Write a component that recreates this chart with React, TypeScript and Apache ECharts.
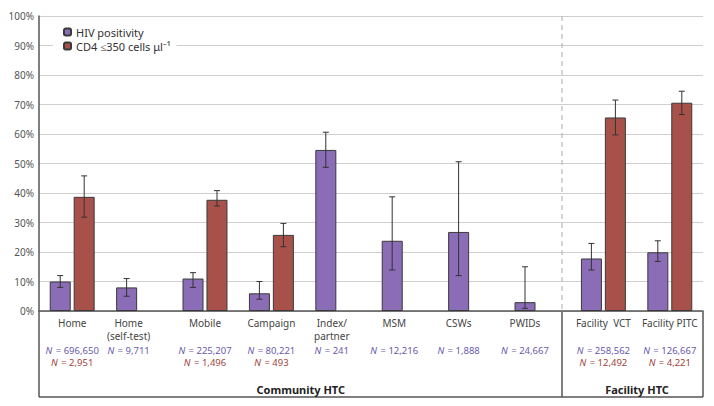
import React, { useEffect, useRef } from "react";
import * as echarts from "echarts";

const categories = ["Home", "Home\n(self-test)", "Mobile", "Campaign", "Index/\npartner", "MSM", "CSWs", "PWIDs", "Facility  VCT", "Facility PITC"];
const hivValues = [10, 8, 11, 6, 54.6, 23.8, 26.8, 3, 17.8, 19.9];
const hivLow = [8, 5, 8, 4, 48.7, 13.9, 12, 0.9, 13.9, 16.8];
const hivHigh = [12, 11, 13, 10, 60.6, 38.7, 50.6, 15, 22.9, 23.8];
const cd4Values: (number | null)[] = [38.7, null, 37.7, 25.8, null, null, null, null, 65.6, 70.6];
const cd4Low: (number | null)[] = [31.8, null, 35.6, 21.8, null, null, null, null, 59.7, 66.6];
const cd4High: (number | null)[] = [45.8, null, 40.8, 29.7, null, null, null, null, 71.5, 74.5];
const hivN = ["696,650", "9,711", "225,207", "80,221", "241", "12,216", "1,888", "24,667", "258,562", "126,667"];
const cd4N = ["2,951", "", "1,496", "493", "", "", "", "", "12,492", "4,221"];
const seriesNames = ["HIV positivity", "CD4 \u2264350 cells \u03bcl\u207b\u00b9"];
const groupLabels = ["Community HTC", "Facility HTC"];

// layout: leftward shift (px) of each category's label block
const LABEL_SHIFT = [0, 10, 0, 0, 6, 10, 12, 12, 0, 0];

const PURPLE = "#8a6cb7";
const RED = "#a8514a";
const BAR_W = 21;
const GAP = 3;
const FONT = "Noto Sans";

function errorSeries(low: (number | null)[], high: (number | null)[], side: number) {
  const data: number[][] = [];
  low.forEach((l, i) => {
    const h = high[i];
    if (l != null && h != null) data.push([i, l, h]);
  });
  return {
    type: "custom",
    z: 5,
    silent: true,
    encode: { x: 0, y: [1, 2] },
    data,
    renderItem: (params: any, api: any) => {
      const off = side * (BAR_W + GAP) / 2;
      const lo = api.coord([api.value(0), api.value(1)]);
      const hi = api.coord([api.value(0), api.value(2)]);
      const x = lo[0] + off;
      const st = { stroke: "#333", lineWidth: 1 };
      return {
        type: "group",
        children: [
          { type: "line", shape: { x1: x, y1: lo[1], x2: x, y2: hi[1] }, style: st },
          { type: "line", shape: { x1: x - 3, y1: lo[1], x2: x + 3, y2: lo[1] }, style: st },
          { type: "line", shape: { x1: x - 3, y1: hi[1], x2: x + 3, y2: hi[1] }, style: st },
        ],
      };
    },
  };
}

function buildRich() {
  const base: Record<string, any> = {
    a: { fontSize: 10, lineHeight: 13, color: "#444", fontFamily: FONT },
    p: { fontSize: 9.5, lineHeight: 12.5, color: "#6a5aae", fontFamily: FONT },
    pi: { fontSize: 9.5, lineHeight: 12.5, color: "#6a5aae", fontStyle: "italic", fontFamily: FONT, padding: [0, 1, 0, 0] },
    r: { fontSize: 9.5, lineHeight: 12.5, color: "#a0443d", fontFamily: FONT },
    ri: { fontSize: 9.5, lineHeight: 12.5, color: "#a0443d", fontStyle: "italic", fontFamily: FONT, padding: [0, 1, 0, 0] },
  };
  const rich: Record<string, any> = { s: { fontSize: 2, lineHeight: 2 } };
  Array.from(new Set(LABEL_SHIFT)).forEach((sh) => {
    Object.keys(base).forEach((k) => {
      const st = { ...base[k] };
      if (k === "a" || k === "p" || k === "r") st.padding = [0, sh * 2, 0, 0];
      rich[`${k}${sh}`] = st;
    });
  });
  return rich;
}

export default function App() {
  const ref = useRef<HTMLDivElement>(null);
  useEffect(() => {
    document.body.style.margin = "0";
    const chart = echarts.init(ref.current!, null, { renderer: "svg" });
    const lineStyle = { stroke: "#555", lineWidth: 1.5 };
    chart.setOption({
      animation: false,
      textStyle: { fontFamily: FONT },
      grid: { left: 39, right: 11, top: 16, bottom: 95 },
      legend: {
        data: seriesNames,
        orient: "vertical",
        left: 53,
        top: 23,
        padding: [3, 6, 3, 10],
        itemGap: 2,
        itemWidth: 7,
        itemHeight: 7,
        backgroundColor: "#fff",
        textStyle: { fontSize: 11, color: "#333", lineHeight: 12, fontFamily: FONT },
      },
      xAxis: {
        type: "category",
        data: categories,
        axisLine: { lineStyle: { color: "#555", width: 1.5 } },
        axisTick: { show: false },
        axisLabel: {
          interval: 0,
          margin: 5,
          formatter: (value: string, idx: number) => {
            const sh = LABEL_SHIFT[idx];
            const lines = value.split("\n");
            if (lines.length < 2) lines.push(" ");
            const name = lines.map((l) => `{a${sh}|${l}}`).join("\n");
            const p = `{pi${sh}|N}{p${sh}|${" = " + hivN[idx]}}`;
            const r = cd4N[idx] ? `{ri${sh}|N}{r${sh}|${" = " + cd4N[idx]}}` : `{r${sh}| }`;
            return `${name}\n{s| }\n${p}\n${r}`;
          },
          rich: buildRich(),
        },
      },
      yAxis: {
        type: "value",
        min: 0,
        max: 100,
        interval: 10,
        axisLine: { show: true, lineStyle: { color: "#555", width: 1.5 } },
        axisTick: { show: false },
        axisLabel: { formatter: "{value}%", fontSize: 10, color: "#555", margin: 5 },
        splitLine: { lineStyle: { color: "#cfcfcf", width: 1.2 } },
      },
      series: [
        {
          name: seriesNames[0],
          type: "bar",
          data: hivValues,
          barWidth: BAR_W,
          barGap: `${Math.round((GAP / BAR_W) * 100)}%`,
          itemStyle: { color: PURPLE, borderColor: "#3a3a3a", borderWidth: 1 },
        },
        {
          name: seriesNames[1],
          type: "bar",
          data: cd4Values,
          barWidth: BAR_W,
          itemStyle: { color: RED, borderColor: "#3a3a3a", borderWidth: 1 },
        },
        errorSeries(hivLow, hivHigh, -1),
        errorSeries(cd4Low, cd4High, 1),
      ],
      graphic: [
        { type: "line", shape: { x1: 562, y1: 16, x2: 562, y2: 311 }, style: { stroke: "#aaa", lineWidth: 1, lineDash: [5, 4] }, z: 1 },
        { type: "line", shape: { x1: 39, y1: 311, x2: 39, y2: 397 }, style: lineStyle },
        { type: "line", shape: { x1: 39, y1: 397, x2: 703, y2: 397 }, style: lineStyle },
        { type: "line", shape: { x1: 703, y1: 311, x2: 703, y2: 397 }, style: lineStyle },
        { type: "line", shape: { x1: 562, y1: 311, x2: 562, y2: 397 }, style: lineStyle },
        { type: "text", x: 345, y: 389, style: { text: groupLabels[0], font: `bold 11px "${FONT}"`, fill: "#222", textAlign: "right", textVerticalAlign: "middle" } },
        { type: "text", x: 637, y: 389, style: { text: groupLabels[1], font: `bold 11px "${FONT}"`, fill: "#222", textAlign: "center", textVerticalAlign: "middle" } },
      ],
    });
    return () => chart.dispose();
  }, []);
  return <div ref={ref} style={{ width: 714, height: 406 }} />;
}
